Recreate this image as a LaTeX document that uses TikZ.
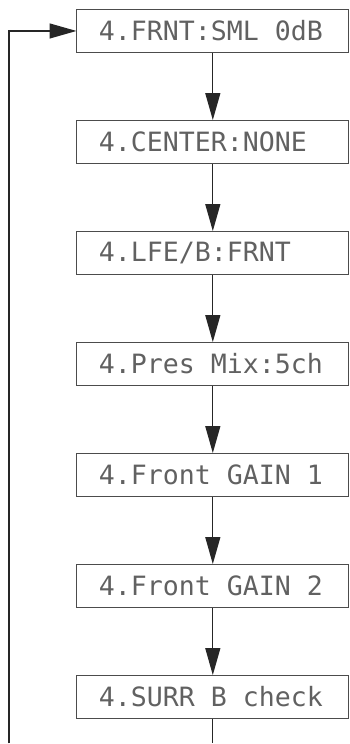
\documentclass[tikz,border=0pt]{standalone}
\usepackage{fontspec}
\newfontfamily\lcdfont{DejaVu Sans Mono}
\newcommand\lcdtype{\lcdfont\fontsize{26.6}{30}\selectfont}
\newcommand\lcdspace{\spaceskip=0.602em plus 0pt minus 0pt\relax}
\usetikzlibrary{arrows.meta,positioning}

\tikzset{
  lcd/.style={draw=black!70, line width=0.9pt, minimum width=272pt, minimum height=43pt,
              inner xsep=22pt, inner ysep=0pt, text width=228pt, align=left,
              text=black!62, font=\lcdtype, execute at begin node=\lcdspace},
  flow/.style={draw=black!85, line width=1.3pt, -{Triangle[length=27pt, width=15pt]}},
}

\begin{document}
\begin{tikzpicture}[x=1pt, y=-1pt, line join=miter]

  % ── 显示屏菜单 ──
  \node[lcd] (frnt) at (213,31) {4.FRNT:SML 0dB};
  \node[lcd, below=67.2pt of frnt] (center) {4.CENTER:NONE};
  \node[lcd, below=67.2pt of center] (lfe) {4.LFE/B:FRNT};
  \node[lcd, below=67.2pt of lfe] (pres) {4.Pres Mix:5ch};
  \node[lcd, below=67.2pt of pres] (gainA) {4.Front GAIN 1};
  \node[lcd, below=67.2pt of gainA] (gainB) {4.Front GAIN 2};
  \node[lcd, below=67.2pt of gainB] (surr) {4.SURR B check};

  % ── 向下的箭头 ──
  \foreach \a/\b in {frnt/center, center/lfe, lfe/pres, pres/gainA, gainA/gainB, gainB/surr}
     \draw[flow] (\a.south) -- (\b.north);

  % ── 回到开头的线 ──
  \coordinate (loopbot) at (9,744);
  \draw[draw=black!85, line width=1.3pt] (surr.south) -- (surr.south |- loopbot);
  \draw[flow] (loopbot) |- (frnt.west);

  \path[use as bounding box] (0,0) rectangle (350,744);
\end{tikzpicture}
\end{document}
